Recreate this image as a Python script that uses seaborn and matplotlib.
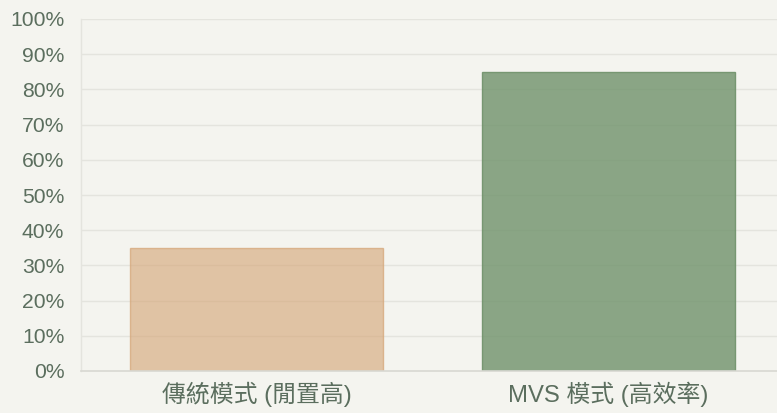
import numpy as np
import pandas as pd
import matplotlib
matplotlib.use('Agg')
import matplotlib.pyplot as plt
import seaborn as sns
from matplotlib.ticker import PercentFormatter

categories = ['傳統模式 (閒置高)', 'MVS 模式 (高效率)']
values = [35, 85]
bar_colors = ['#d4a373', '#70926b']
bar_alphas = [0.6, 0.8]
y_ticks = list(range(0, 101, 10))

bg = '#f4f4ef'
grid_c = '#e4e4de'
text_c = '#5b6e5e'

sns.set_theme(style='white')
plt.rcParams['font.family'] = ['Liberation Sans', 'Noto Sans CJK TC', 'DejaVu Sans']

data = pd.DataFrame({'mode': categories, 'value': values})

fig = plt.figure(figsize=(7.77, 4.13), dpi=100, facecolor=bg)
ax = fig.add_axes([81 / 777, 1 - 371 / 413, 703 / 777, 352 / 413])
ax.set_facecolor(bg)

sns.barplot(data=data, x='mode', y='value', hue='mode', palette=bar_colors,
            width=0.72, legend=False, ax=ax, zorder=2)
for patch, c, a in zip(ax.patches, bar_colors, bar_alphas):
    patch.set_facecolor(matplotlib.colors.to_rgba(c, a))
    patch.set_edgecolor(matplotlib.colors.to_rgba(c, min(a + 0.1, 1)))
    patch.set_linewidth(1.0)

ax.set_ylim(0, 100)
ax.set_xlim(-0.5, 1.5)
ax.set_yticks(y_ticks)
ax.yaxis.set_major_formatter(PercentFormatter(decimals=0))
ax.grid(axis='y', color=grid_c, linewidth=1.0, zorder=0)
ax.set_axisbelow(True)
ax.tick_params(axis='y', length=8, width=1.0, color=grid_c, labelcolor=text_c,
               labelsize=15.2, pad=4)
ax.tick_params(axis='x', length=0, labelcolor=text_c, labelsize=17.2, pad=8)
ax.set_xlabel('')
ax.set_ylabel('')
for lab in ax.get_xticklabels():
    lab.set_family(['Liberation Sans', 'Noto Sans CJK TC'])

for side in ['top', 'right']:
    ax.spines[side].set_visible(False)
ax.spines['left'].set_color(grid_c)
ax.spines['left'].set_linewidth(1.0)
ax.spines['bottom'].set_color('#d8d8d2')
ax.spines['bottom'].set_linewidth(1.2)

fig.savefig('out.png', dpi=100, facecolor=bg)
